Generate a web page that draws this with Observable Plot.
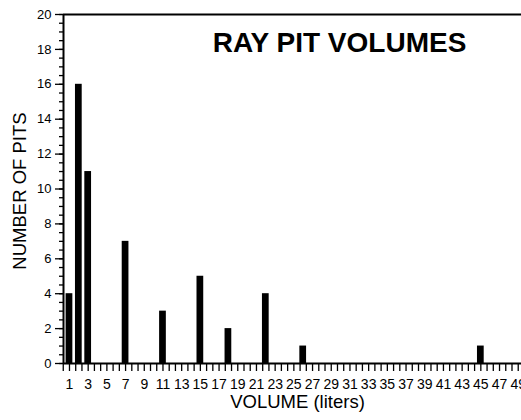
<!DOCTYPE html>
<html>
<head>
<meta charset="utf-8">
<script src="https://cdn.jsdelivr.net/npm/d3@7"></script>
<script src="https://cdn.jsdelivr.net/npm/@observablehq/plot@0.6"></script>
<style>
  body { margin: 0; background: #fff; }
  svg { font-family: "Liberation Sans", Arial, sans-serif; }
</style>
</head>
<body>
<div id="chart"></div>
<script>
// Data
const volumes = [1, 2, 3, 7, 11, 15, 18, 22, 26, 45];
const counts  = [4, 16, 11, 7, 3, 5, 2, 4, 1, 1];
const xTickLabels = d3.range(1, 50, 2);          // 1,3,...,49
const xTickMarks = d3.range(1 / 3, 49.4, 2 / 3); // tick marks every 2/3 unit
const yTickLabels = d3.range(0, 21, 2);
const yMinorTicks = d3.range(0, 20.01, 0.5);
const title = "RAY PIT VOLUMES";
const xLabel = "VOLUME (liters)";
const yLabel = "NUMBER OF PITS";

const data = volumes.map((v, i) => ({v, n: counts[i]}));
const xDomain = [0.36, 49.35];
const halfW = 0.36;

const chart = Plot.plot({
  width: 521,
  height: 420,
  marginLeft: 63,
  marginRight: 0,
  marginTop: 14,
  marginBottom: 57,
  style: {background: "#fff", color: "#000", fontFamily: "Liberation Sans, Arial, sans-serif"},
  x: {domain: xDomain},
  y: {domain: [0, 20]},
  marks: [
    Plot.rectY(data, {x1: d => d.v - halfW, x2: d => d.v + halfW, y: "n", fill: "#000"}),
    Plot.ruleY([0], {stroke: "#000", strokeWidth: 2}),
    Plot.ruleY([20], {stroke: "#000", strokeWidth: 2}),
    Plot.ruleX([xDomain[0]], {stroke: "#000", strokeWidth: 2}),
    Plot.axisX({ticks: xTickMarks, tickSize: 8, tickFormat: () => "", label: null, stroke: "#000", strokeWidth: 1.3}),
    Plot.axisX({ticks: xTickLabels, tickSize: 0, tickPadding: 16, fontSize: 14, label: null, fill: "#000"}),
    Plot.axisY({ticks: yMinorTicks, tickSize: 4, tickFormat: () => "", label: null, stroke: "#000", strokeWidth: 1.3}),
    Plot.axisY({ticks: yTickLabels, tickSize: 8, tickPadding: 4, fontSize: 13, label: null, stroke: "#000", strokeWidth: 1.3, fill: "#000"}),
    Plot.text([title], {frameAnchor: "top", dx: 47, dy: 29, fontSize: 28, fontWeight: "bold", fill: "#000", lineAnchor: "middle"}),
    Plot.text([xLabel], {frameAnchor: "bottom", dx: 5, dy: 39, fontSize: 18.5, fill: "#000", lineAnchor: "middle"}),
    Plot.text([yLabel], {frameAnchor: "left", textAnchor: "middle", dx: -43, dy: 2, rotate: -90, fontSize: 18.5, fill: "#000", lineAnchor: "middle"})
  ]
});
document.getElementById("chart").append(chart);
</script>
</body>
</html>
